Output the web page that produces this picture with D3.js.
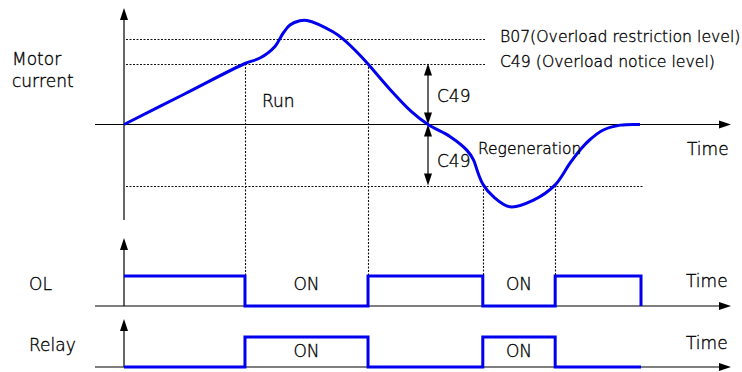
<!DOCTYPE html>
<html>
<head>
<meta charset="utf-8">
<script src="https://cdn.jsdelivr.net/npm/d3@7"></script>
<style>
  body { margin: 0; background: #fff; }
  text { font-family: "DejaVu Sans", sans-serif; fill: #000; font-weight: 200; stroke: #000; stroke-width: 0.35px; }
</style>
</head>
<body>
<script>
// motor current curve (time in arbitrary units, current in % of C49 level)
const curT = [0, 11.7, 23.4, 26.3, 29.2, 30.8, 32.1, 34.0, 35.4, 40.4, 42.4, 45.6, 47.2, 51.5, 55.6, 58.8, 63.1, 66.3, 67.6, 68.5, 69.5, 71.4, 74.7, 79.2, 83.4, 86.3, 88.5, 90.1, 92.7, 96.0, 99.8];
const curI = [0, 50, 100, 109, 128, 150, 163, 170, 170.5, 152, 140, 114, 99, 57, 21, 0, -20, -42, -58, -80, -99, -118, -135, -124, -99, -63, -39, -25, -9, -1, 0];

// level lines
const levelNames = ["B07", "C49", "-C49"];
const levelValues = [140, 100, -100];
const levelEnds = [70, 70, 100.5];
const levelLabels = ["B07(Overload restriction level)", "C49 (Overload notice level)", ""];

// switching events and output states
const eventT = [0, 23.4, 47.2, 69.4, 83.4, 100];
const eventI = [null, 100, 100, -100, -100, null];
const olStates = [1, 0, 1, 0, 1, 0];
const relayStates = [0, 1, 0, 1, 0, 0];
const onLabelT = [35.3, 76.4];

const svg = d3.select("body").append("svg")
    .attr("width", 742)
    .attr("height", 372);

// scales
const x = d3.scaleLinear().domain([0, 100]).range([124, 641]);
const y = d3.scaleLinear().domain([0, 100]).range([124.5, 63.5]);
const yOL = d3.scaleLinear().domain([0, 1]).range([306, 276]);
const yRelay = d3.scaleLinear().domain([0, 1]).range([367, 337]);

// arrow head helper
const head = (px, py, dir, len, w) => {
  let pts;
  if (dir === "up") pts = [[px, py], [px - w / 2, py + len], [px + w / 2, py + len]];
  else if (dir === "down") pts = [[px, py], [px - w / 2, py - len], [px + w / 2, py - len]];
  else pts = [[px, py], [px - len, py - w / 2], [px - len, py + w / 2]];
  svg.append("path")
    .attr("d", "M" + pts.map(p => p.join(",")).join("L") + "Z")
    .attr("fill", "#000");
};

const axisLine = (x1, y1, x2, y2) => {
  svg.append("line")
    .attr("x1", x1).attr("y1", y1).attr("x2", x2).attr("y2", y2)
    .attr("stroke", "#000").attr("stroke-width", 1.2);
};

// axes for the three panels
const x0 = x(0);
[[y(0), 8, 220], [yOL(0), 238, yOL(0)], [yRelay(0), 319, yRelay(0)]].forEach(([base, top, bottom]) => {
  axisLine(95, base, 720, base);
  head(731, base, "right", 12, 8);
  axisLine(x0, bottom, x0, top + 10);
  head(x0, top, "up", 12, 8);
});

// dotted level lines
const dotted = (x1, y1, x2, y2) => {
  svg.append("line")
    .attr("x1", x1).attr("y1", y1).attr("x2", x2).attr("y2", y2)
    .attr("stroke", "#111").attr("stroke-width", 1.1)
    .attr("stroke-dasharray", "2,1.5");
};
levelValues.forEach((v, i) => {
  const yy = Math.round(y(v)) + 0.5;
  dotted(x0 + 2, yy, x(levelEnds[i]), yy);
  if (levelLabels[i]) {
    svg.append("text")
      .attr("x", x(levelEnds[i]) + 14)
      .attr("y", yy + 2)
      .attr("font-size", 15.7)
      .text(levelLabels[i]);
  }
});

// vertical dotted lines at the switching points
eventT.forEach((t, i) => {
  if (eventI[i] === null) return;
  const xx = Math.round(x(t)) + 0.5;
  dotted(xx, y(eventI[i]), xx, yOL(1));
});

// C49 double arrows
const ax = x(58.8);
[[100, 0], [0, -100]].forEach(([a, b]) => {
  axisLine(ax, y(a) + 10, ax, y(b) - 10);
  head(ax, y(a), "up", 12, 8);
  head(ax, y(b), "down", 12, 8);
});

// motor current curve
svg.append("path")
  .datum(curT.map((t, i) => [t, curI[i]]))
  .attr("fill", "none")
  .attr("stroke", "#0000ee")
  .attr("stroke-width", 3)
  .attr("d", d3.line()
    .x(d => x(d[0]))
    .y(d => y(d[1]))
    .curve(d3.curveCatmullRom.alpha(0.5)));

// OL and relay signals
const signal = (states, ys) => {
  const pts = eventT.map((t, i) => [t, states[i]]);
  svg.append("path")
    .datum(pts)
    .attr("fill", "none")
    .attr("stroke", "#0000ee")
    .attr("stroke-width", 3)
    .attr("d", d3.line()
      .x(d => x(d[0]))
      .y(d => ys(d[1]))
      .curve(d3.curveStepAfter));
};
signal(olStates, yOL);
signal(relayStates, yRelay);

// labels
const label = (tx, ty, str, size) => {
  svg.append("text").attr("x", tx).attr("y", ty)
    .attr("font-size", size || 17).text(str);
};
label(12, 65, "Motor");
label(12, 87, "current");
label(262, 107, "Run");
label(437, 102, "C49");
label(437, 167, "C49");
label(478, 154, "Regeneration", 15.5);
label(687, 155, "Time");
label(29, 290, "OL");
label(29, 351, "Relay");
label(686, 287, "Time");
label(686, 349, "Time");
onLabelT.forEach(t => {
  svg.append("text").attr("x", x(t)).attr("y", 290)
    .attr("font-size", 17).attr("text-anchor", "middle").text("ON");
  svg.append("text").attr("x", x(t)).attr("y", 357)
    .attr("font-size", 17).attr("text-anchor", "middle").text("ON");
});
</script>
</body>
</html>
